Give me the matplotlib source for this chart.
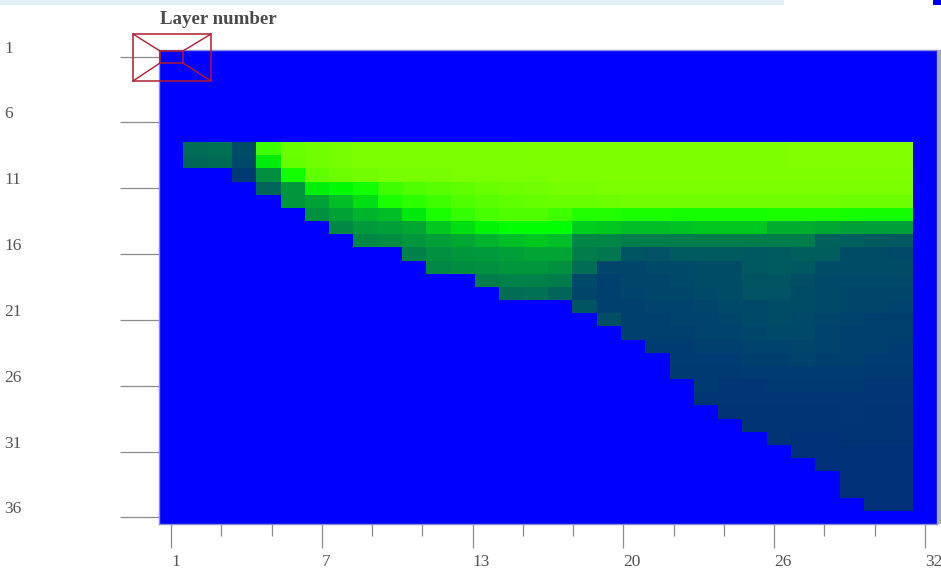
# -*- coding: utf-8 -*-
import matplotlib
matplotlib.use("Agg")
import matplotlib.pyplot as plt
import matplotlib.patches as patches
from matplotlib.colors import LinearSegmentedColormap
from matplotlib.lines import Line2D
import numpy as np

W, H = 941, 571
N_LAYERS = 36
N_COLS = 32

# first column holding data, for each layer from 8 down
first_layer = 8
first_col = [2, 2, 4, 5, 6, 7, 8, 9, 11, 12, 14, 15, 18, 19, 20, 21, 22, 22,
             23, 23, 24, 25, 26, 27, 28, 29, 29, 30]

# level per cell
levels = [
    [23, 24, 12, 84, 94, 96, 97, 98, 98, 98, 98, 98, 98, 98, 99, 99, 99, 99, 99, 99, 99, 99, 99, 99, 99, 100, 100, 100, 100, 100],
    [21, 22, 11, 64, 93, 96, 97, 98, 98, 98, 98, 98, 98, 98, 99, 99, 99, 99, 99, 99, 99, 99, 99, 99, 99, 100, 100, 100, 100, 100],
    [6, 34, 74, 92, 95, 96, 97, 97, 97, 98, 98, 98, 98, 99, 99, 99, 99, 99, 99, 99, 99, 99, 99, 99, 99, 99, 99, 99],
    [20, 36, 65, 69, 74, 84, 88, 90, 92, 94, 95, 96, 97, 97, 98, 98, 98, 98, 98, 98, 98, 98, 98, 98, 98, 98, 98],
    [36, 40, 49, 59, 76, 80, 84, 88, 90, 92, 93, 94, 94, 95, 96, 96, 96, 96, 96, 96, 96, 96, 96, 95, 95, 95],
    [34, 40, 46, 49, 63, 76, 82, 86, 88, 88, 84, 78, 78, 76, 76, 75, 75, 75, 75, 76, 76, 76, 75, 74, 74],
    [32, 37, 39, 42, 52, 60, 67, 70, 70, 70, 54, 52, 49, 49, 50, 52, 52, 52, 44, 44, 42, 39, 39, 39],
    [31, 33, 36, 39, 42, 46, 49, 52, 49, 31, 31, 28, 28, 28, 28, 28, 28, 28, 28, 19, 18, 17, 16],
    [29, 34, 36, 37, 39, 41, 41, 28, 26, 15, 14, 17, 17, 17, 16, 17, 18, 18, 12, 12, 11],
    [31, 33, 34, 36, 36, 34, 23, 10, 10, 11, 11, 12, 12, 16, 17, 16, 12, 12, 12, 12],
    [28, 29, 29, 28, 11, 8, 10, 10, 11, 12, 12, 15, 15, 13, 11, 11, 11, 11],
    [23, 24, 20, 10, 8, 9, 10, 10, 11, 12, 14, 14, 12, 11, 10, 10, 10],
    [15, 8, 8, 9, 9, 10, 11, 11, 12, 12, 11, 10, 10, 9],
    [13, 8, 8, 9, 9, 10, 11, 12, 11, 10, 9, 8, 8],
    [8, 8, 8, 9, 9, 10, 11, 11, 9, 8, 8, 8],
    [7, 7, 8, 8, 9, 9, 10, 9, 8, 8, 7],
    [7, 7, 7, 8, 8, 9, 8, 8, 7, 7],
    [6, 6, 6, 7, 7, 7, 7, 7, 6, 6],
    [6, 5, 5, 6, 6, 6, 6, 5, 5],
    [5, 5, 5, 5, 5, 5, 5, 5, 5],
    [4, 4, 4, 4, 4, 5, 4, 4],
    [4, 4, 4, 4, 4, 4, 4],
    [4, 3, 3, 4, 4, 4],
    [3, 3, 3, 3, 3],
    [3, 3, 3, 3],
    [3, 3, 3],
    [3, 3, 3],
    [3, 3],
]

layer_ticks = [1, 6, 11, 16, 21, 26, 31, 36]
col_ticks = [1, 7, 13, 20, 26, 32]
col_tick_pos = [1, 7.2, 13.4, 19.6, 25.8, 32]
col_minor_pos = [3.07, 5.13, 9.27, 11.33, 15.47, 17.53, 21.67, 23.73, 27.87, 29.93]

grid = np.full((N_LAYERS, N_COLS), np.nan)
for i, row in enumerate(levels):
    start = first_col[i] - 1
    grid[first_layer - 1 + i, start:start + len(row)] = row

cmap = LinearSegmentedColormap.from_list("layers", [
    (0.0, (0 / 255, 40 / 255, 125 / 255)),
    (0.7, (0 / 255, 255 / 255, 0 / 255)),
    (1.0, (130 / 255, 255 / 255, 0 / 255)),
])
cmap.set_bad("#0000ff")

fig = plt.figure(figsize=(W / 100, H / 100), dpi=100, facecolor="white")


def px_rect(x0, y0, x1, y1):
    # pixel box (top-left origin) to figure fractions
    return [x0 / W, 1 - y1 / H, (x1 - x0) / W, (y1 - y0) / H]


ax = fig.add_axes(px_rect(159, 50, 937, 524))
ax.imshow(grid, cmap=cmap, vmin=0, vmax=100, aspect="auto", interpolation="nearest",
          extent=(0.5, N_COLS + 0.5, N_LAYERS + 0.5, 0.5))

for s in ax.spines.values():
    s.set_color("#8a8ae0")
    s.set_linewidth(1)

tick_col = "#8c8c8c"
ax.set_yticks(layer_ticks)
ax.set_yticklabels([])
ax.tick_params(axis="y", length=39 * 0.72, width=0.9, color=tick_col)
ax.set_xticks(col_tick_pos)
ax.set_xticklabels([])
ax.set_xticks(col_minor_pos, minor=True)
ax.tick_params(axis="x", which="major", length=24 * 0.72, width=0.9, color=tick_col)
ax.tick_params(axis="x", which="minor", length=12 * 0.72, width=0.9, color=tick_col)

label_font = dict(family="Liberation Serif", fontsize=12.5, color="#555555")
for v in layer_ticks:
    ax.annotate(str(v), xy=(0, v), xycoords=("axes fraction", "data"),
                xytext=(-155, 8), textcoords="offset pixels",
                ha="left", va="center", **label_font)
for v, p in zip(col_ticks, col_tick_pos):
    ax.annotate(str(v), xy=(p, 0), xycoords=("data", "axes fraction"),
                xytext=(0, -38), textcoords="offset pixels",
                ha="left", va="center", **label_font)

fig.text(160 / W, 1 - 19 / H, "Layer number", family="Liberation Serif", fontsize=13.6,
         fontweight="bold", color="#4a4a4a", ha="left", va="center")

# page leftovers: top band, blue corner, grey strip on the right
for box, col in [((0, 0, 784, 5), "#e2f0f5"), ((933, 0, 941, 5), "#0000e0"),
                 ((937, 50, 941, 524), "#a8a8b8")]:
    x0, y, w, h = px_rect(*box)
    fig.add_artist(patches.Rectangle((x0, y), w, h, transform=fig.transFigure,
                                     facecolor=col, edgecolor="none"))

# red zoom box over the corner
red = "#b01c30"
for box in [(133, 34, 211, 81), (160, 51, 183, 63)]:
    x0, y, w, h = px_rect(*box)
    fig.add_artist(patches.Rectangle((x0, y), w, h, transform=fig.transFigure,
                                     facecolor="none", edgecolor=red, linewidth=1.1))
for (xa, ya), (xb, yb) in [((133, 34), (160, 51)), ((211, 34), (183, 51)),
                           ((133, 81), (160, 63)), ((211, 81), (183, 63))]:
    fig.add_artist(Line2D([xa / W, xb / W], [1 - ya / H, 1 - yb / H],
                          transform=fig.transFigure, color=red, linewidth=1))

fig.savefig("out.png", dpi=100)
